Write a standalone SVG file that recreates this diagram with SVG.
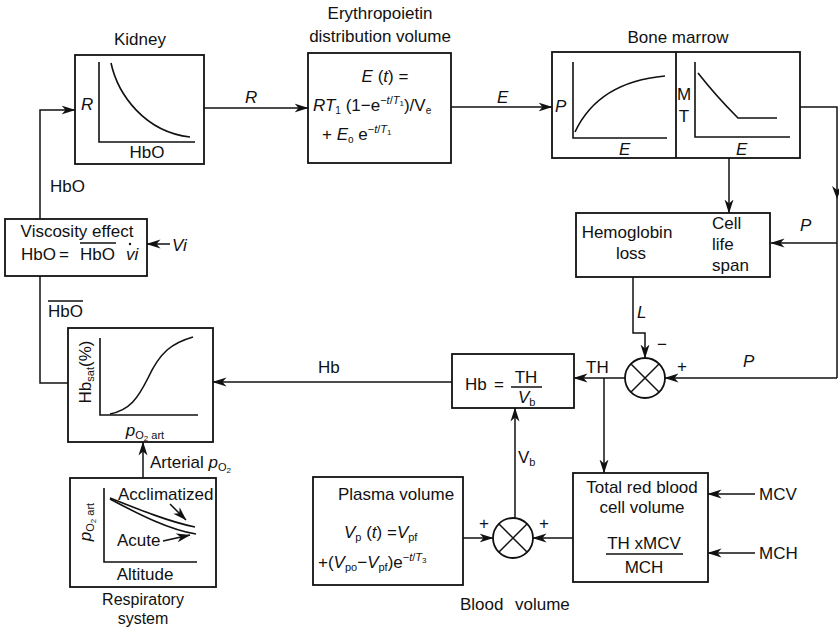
<svg xmlns="http://www.w3.org/2000/svg" width="839" height="630" viewBox="0 0 839 630">
<style>
text{font-family:"Liberation Sans",Arial,sans-serif;font-size:17px;fill:#111}
.c{text-anchor:middle}
.i{font-style:italic}
.box{fill:#fff;stroke:#111;stroke-width:1.8}
.ax{fill:none;stroke:#111;stroke-width:1.6}
.cv{fill:none;stroke:#111;stroke-width:1.6}
.ln{fill:none;stroke:#111;stroke-width:1.5}
.ar{fill:none;stroke:#111;stroke-width:1.5;marker-end:url(#ah)}
.sub{font-size:11px}
.ss{font-size:8px}
</style>
<defs>
<marker id="ah" viewBox="0 0 14 10" refX="13.5" refY="5" markerWidth="14" markerHeight="10" markerUnits="userSpaceOnUse" orient="auto">
<path d="M0,0.5 L14,5 L0,9.5 L4,5 Z" fill="#111"/>
</marker>
</defs>
<rect width="839" height="630" fill="#fff"/>

<g id="connectors">
<path class="ln" d="M68,383 H40 V276"/>
<path class="ar" d="M40,219 V110 H75"/>
<path class="ar" d="M204,108 H308"/>
<path class="ar" d="M451,107 H552"/>
<path class="ln" d="M800,107 H837 V378"/>
<path d="M832,186 L837,199 L842,186 L837,190 Z" fill="#111"/>
<path class="ar" d="M837,243 H771"/>
<path class="ar" d="M837,378 H665"/>
<path class="ar" d="M729,158 V213"/>
<path class="ar" d="M708,245 H658"/>
<path class="ar" d="M633,277 V333 H645 V358"/>
<path class="ar" d="M625,378 H574"/>
<path class="ar" d="M604,378 V473"/>
<path class="ar" d="M452,382 H213"/>
<path class="ar" d="M515,518 V408"/>
<path class="ar" d="M463,538 H493"/>
<path class="ar" d="M573,538 H533"/>
<path class="ar" d="M755,494 H708"/>
<path class="ar" d="M755,553 H708"/>
<path class="ar" d="M143,478 V442"/>
<path class="ar" d="M170,244 H147"/>
<text x="245" y="103" class="i">R</text>
<text x="497" y="103" class="i">E</text>
<text x="50" y="192">HbO</text>
<text x="48" y="317">HbO</text>
<line class="ln" x1="48" y1="301" x2="83" y2="301"/>
<text x="172" y="251" class="i">Vi</text>
<text x="800" y="231" class="i">P</text>
<text x="637" y="318" class="i">L</text>
<text x="662" y="350" class="c">−</text>
<text x="682" y="372" class="c">+</text>
<text x="743" y="367" class="i">P</text>
<text x="586" y="373">TH</text>
<text x="318" y="373">Hb</text>
<text x="518" y="463">V<tspan class="sub" dy="3">b</tspan></text>
<text x="484" y="529" class="c">+</text>
<text x="544" y="529" class="c">+</text>
<text x="759" y="500">MCV</text>
<text x="759" y="559">MCH</text>
<text x="150" y="468">Arterial <tspan class="i">p</tspan><tspan class="sub" dy="3">O</tspan><tspan class="ss" dy="2">2</tspan></text>
</g>

<g id="kidney">
<text x="140" y="45" class="c">Kidney</text>
<rect class="box" x="75" y="55" width="129" height="109"/>
<path class="ax" d="M99,62 V142 H195"/>
<path class="cv" d="M111,63 C118,95 145,132 190,137"/>
<text x="81" y="110" class="i">R</text>
<text x="147" y="158" class="c">HbO</text>
</g>

<g id="erythropoietin">
<text x="380" y="19" class="c">Erythropoietin</text>
<text x="380" y="42" class="c">distribution volume</text>
<rect class="box" x="308" y="53" width="143" height="110"/>
<text x="385" y="82" class="c"><tspan class="i">E</tspan> (<tspan class="i">t</tspan>) =</text>
<text x="313" y="111"><tspan class="i">RT</tspan><tspan font-size="10" dy="3">1</tspan><tspan dy="-3"> (1−e</tspan><tspan font-size="11" dy="-7">−<tspan class="i">t</tspan>/<tspan class="i">T</tspan></tspan><tspan font-size="8" dy="2">1</tspan><tspan dy="5">)/V</tspan><tspan font-size="10" dy="3">e</tspan></text>
<text x="322" y="140">+  <tspan class="i">E</tspan><tspan font-size="10" dy="3">o</tspan><tspan dy="-3">  e</tspan><tspan font-size="11" dy="-7">−<tspan class="i">t</tspan>/<tspan class="i">T</tspan></tspan><tspan font-size="8" dy="2">1</tspan></text>
</g>

<g id="bone-marrow">
<text x="678" y="43" class="c">Bone marrow</text>
<rect class="box" x="552" y="52" width="248" height="106"/>
<line class="box" x1="676" y1="52" x2="676" y2="158"/>
<path class="ax" d="M573,62 V138 H667"/>
<path class="cv" d="M575,132 C590,100 620,80 665,76"/>
<text x="555" y="112" class="i">P</text>
<text x="619" y="155" class="i">E</text>
<path class="ax" d="M695,62 V137 H790"/>
<path class="cv" d="M698,73 Q716,96 738,118 H777"/>
<text x="684" y="100" class="c">M</text>
<text x="684" y="122" class="c">T</text>
<text x="736" y="155" class="i">E</text>
</g>

<g id="cell-life">
<rect class="box" x="576" y="213" width="194" height="64"/>
<text x="627" y="238" class="c">Hemoglobin</text>
<text x="631" y="259" class="c">loss</text>
<text x="712" y="229">Cell</text>
<text x="712" y="250">life</text>
<text x="712" y="271">span</text>
</g>

<g id="sum-th">
<circle cx="645" cy="378" r="20" fill="#fff" stroke="#111" stroke-width="1.8"/>
<path class="ln" d="M631,364 L659,392 M659,364 L631,392"/>
</g>

<g id="hb-box">
<rect class="box" x="452" y="354" width="122" height="54"/>
<text x="465" y="390">Hb</text>
<text x="499" y="390" class="c">=</text>
<text x="526" y="383" class="c">TH</text>
<line class="ln" x1="511" y1="387" x2="542" y2="387"/>
<text x="518" y="403"><tspan class="i">V</tspan><tspan class="sub" dy="3">b</tspan></text>
</g>

<g id="total-rbc">
<rect class="box" x="573" y="473" width="135" height="109"/>
<text x="642" y="493" class="c">Total red blood</text>
<text x="642" y="513" class="c">cell volume</text>
<text x="644" y="549" class="c">TH xMCV</text>
<line class="ln" x1="606" y1="554" x2="683" y2="554"/>
<text x="644" y="573" class="c">MCH</text>
</g>

<g id="blood-volume">
<circle cx="513" cy="538" r="20" fill="#fff" stroke="#111" stroke-width="1.8"/>
<path class="ln" d="M499,524 L527,552 M527,524 L499,552"/>
<text x="460" y="610">Blood</text>
<text x="515" y="610">volume</text>
</g>

<g id="plasma">
<rect class="box" x="313" y="477" width="150" height="108"/>
<text x="396" y="500" class="c">Plasma volume</text>
<text x="344" y="538"><tspan class="i">V</tspan><tspan class="sub" dy="3">p</tspan><tspan dy="-3"> (</tspan><tspan class="i">t</tspan>) =<tspan class="i">V</tspan><tspan class="sub" dy="3">pf</tspan></text>
<text x="318" y="568">+(<tspan class="i">V</tspan><tspan class="sub" dy="3">po</tspan><tspan dy="-3">−</tspan><tspan class="i">V</tspan><tspan class="sub" dy="3">pf</tspan><tspan dy="-3">)e</tspan><tspan font-size="11" dy="-7">−<tspan class="i">t</tspan>/<tspan class="i">T</tspan></tspan><tspan font-size="8" dy="2">3</tspan></text>
</g>

<g id="viscosity">
<rect class="box" x="5" y="219" width="142" height="57"/>
<text x="77" y="237" class="c">Viscosity effect</text>
<text x="21" y="260">HbO</text>
<text x="64" y="260" class="c">=</text>
<text x="80" y="260">HbO</text>
<text x="126" y="260" class="i">vi</text>
<line class="ln" x1="80" y1="243" x2="116" y2="243"/>
<circle cx="130" cy="244" r="1.2" fill="#111"/>
</g>

<g id="hb-sat">
<rect class="box" x="68" y="328" width="145" height="114"/>
<path class="ax" d="M100,338 V415 H198"/>
<path class="cv" d="M110,414 C130,410 138,398 148,378 C160,352 172,343 193,337"/>
<text transform="translate(91,372) rotate(-90)" class="c">Hb<tspan class="sub" dy="3">sat</tspan><tspan dy="-3">(%)</tspan></text>
<text x="145" y="436" class="c"><tspan class="i">p</tspan><tspan class="sub" dy="3">O</tspan><tspan class="ss" dy="2">2</tspan><tspan class="sub" dy="-2"> art</tspan></text>
</g>

<g id="respiratory">
<rect class="box" x="70" y="478" width="146" height="109"/>
<path class="ax" d="M104,488 V562 H197"/>
<path class="cv" d="M110,498 C140,510 170,522 195,527"/>
<path class="cv" d="M110,499 C140,515 170,530 196,534"/>
<text transform="translate(91,522) rotate(-90)" class="c"><tspan class="i">p</tspan><tspan class="sub" dy="3">O</tspan><tspan class="ss" dy="2">2</tspan><tspan class="sub" dy="-2"> art</tspan></text>
<text x="118" y="500">Acclimatized</text>
<path class="ln" d="M170,504 L186,520" marker-end="url(#ah)"/>
<text x="117" y="546">Acute</text>
<path class="ln" d="M163,541 L190,535" marker-end="url(#ah)"/>
<text x="145" y="580" class="c">Altitude</text>
<text x="143" y="605" class="c" style="font-size:16px">Respiratory</text>
<text x="143" y="624" class="c" style="font-size:16px">system</text>
</g>
</svg>
